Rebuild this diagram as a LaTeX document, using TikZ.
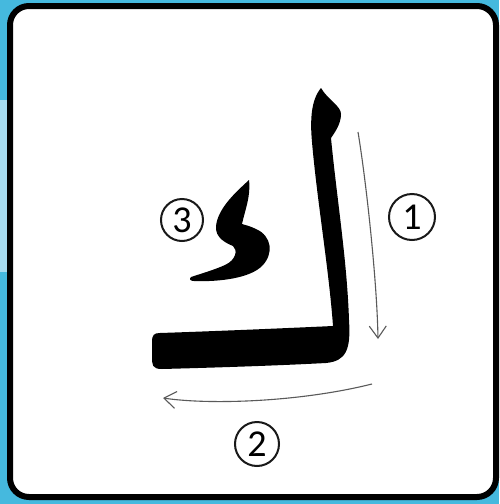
\documentclass[tikz,border=0pt]{standalone}
\usepackage{fontspec}
\newfontfamily\digitfont{Carlito}
\usetikzlibrary{arrows.meta}
\definecolor{bgblue}{HTML}{45B9DE}
\definecolor{bglight}{HTML}{A6DBEF}
\definecolor{inkgray}{HTML}{5A5A5A}
\tikzset{
  numcircle/.style={circle, draw=black!90, line width=2pt, inner sep=0pt, fill=white,
    font=\digitfont\fontsize{38}{38}\selectfont},
  guide/.style={draw=inkgray, line width=1.1pt,
    -{Straight Barb[length=12pt,width=17pt,line width=1.1pt]}},
  ink/.style={fill=black}
}
\begin{document}
\begin{tikzpicture}[x=1pt,y=-1pt]
\useasboundingbox (0,0) rectangle (499,504);
% background
\fill[bgblue] (0,0) rectangle (499,504);
\fill[bglight] (0,100) rectangle (9,272);
% card
\draw[line width=6pt, fill=white, rounded corners=19pt] (10,6) rectangle (496,497);
% main stroke (vertical + base)
\fill[ink] (321,88) .. controls (328,100) and (341,106) .. (341,114)
  .. controls (341,124) and (335,132) .. (331,138)
  .. controls (337,200) and (347,260) .. (349,320)
  .. controls (351,350) and (346,361) .. (326,363)
  .. controls (270,366) and (200,368) .. (162,369)
  .. controls (152,369) and (152,365) .. (152,356) -- (152,342)
  .. controls (152,335) and (154,333) .. (160,333)
  .. controls (220,331) and (290,328) .. (333,326)
  .. controls (329,270) and (317,200) .. (312,142)
  .. controls (310,120) and (311,100) .. (321,88) -- cycle;
% small kaf mark
\fill[ink] (249,180) .. controls (236,192) and (218,208) .. (216,226)
  .. controls (215,238) and (226,243) .. (233,246)
  .. controls (238,250) and (236,260) .. (225,265)
  .. controls (214,270) and (200,274) .. (191,277)
  .. controls (189,279) and (190,281) .. (194,281)
  .. controls (220,282) and (250,278) .. (262,266)
  .. controls (274,254) and (272,236) .. (256,229)
  .. controls (250,226) and (245,225) .. (242,224)
  .. controls (245,210) and (251,196) .. (249,180) -- cycle;
% guide arrows
\coordinate (a1s) at (358,132);
\coordinate (a1e) at (378,339);
\coordinate (a2s) at (372,384);
\coordinate (a2e) at (163,398);
\draw[guide] (a1s) .. controls (366,180) and (377,280) .. (a1e);
\draw[guide] (a2s) .. controls (300,402) and (210,405) .. (a2e);
% numbers
\node[numcircle, minimum size=46pt] (n1) at (412,217) {1};
\node[numcircle, minimum size=44pt] (n2) at (257,444) {2};
\node[numcircle, minimum size=42pt] (n3) at (182,220) {3};
\end{tikzpicture}
\end{document}
